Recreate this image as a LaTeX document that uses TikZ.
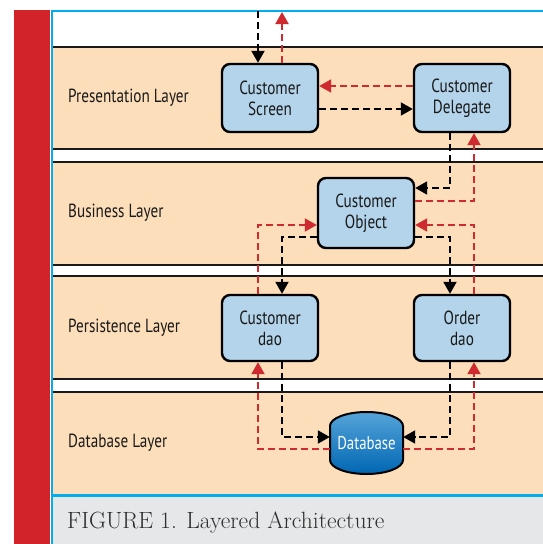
\documentclass[tikz,border=0pt]{standalone}
\usepackage{fontspec}
\setsansfont{PT Sans}[FakeStretch=0.8]
\usetikzlibrary{arrows.meta}
\definecolor{figred}{HTML}{D2232A}
\definecolor{figblue}{HTML}{00AEEF}
\definecolor{bandfill}{HTML}{FDDEBA}
\definecolor{boxfill}{HTML}{B3D4EA}
\definecolor{capfill}{HTML}{E6E7E8}
\definecolor{captext}{HTML}{2E2E2E}
\definecolor{backred}{HTML}{CF2A30}
\definecolor{dbtop}{HTML}{55A4D8}
\definecolor{dbbottom}{HTML}{0066B3}
\begin{document}
\begin{tikzpicture}[
            x=1pt, y=-1pt,
            bandline/.style={line width=2pt, black!90},
            box/.style={draw, line width=2.4pt, fill=boxfill, rounded corners=8pt,
                    minimum width=96pt, minimum height=68pt, inner sep=0pt, align=center,
                    font=\sffamily\fontsize{19}{21}\selectfont, text=black!90},
            layer/.style={anchor=west, inner sep=0pt,
                    font=\sffamily\fontsize{19}{21}\selectfont, text=black!90},
            call/.style={draw=black, line width=2pt, dash pattern=on 7pt off 4pt,
                    -{Triangle[length=12pt,width=13pt]}},
            back/.style={call, draw=backred, color=backred}
        ]
        \useasboundingbox (0,0) rectangle (543,544);
        \fill[figred] (14,10) rectangle (50,544);
        \foreach \top/\bot in {47/149,162/265,276/379,392/494}
            \fill[bandfill] (53,\top) rectangle (543,\bot);
        \foreach \y in {47,149,162,265,276,379,392}
            \draw[bandline] (53,\y) -- (543,\y);
        \fill[capfill] (53,497) rectangle (543,544);
        \draw[figblue, line width=2.4pt] (51.7,544) -- (51.7,10.7) -- (543,10.7);
        \draw[figblue, line width=3pt] (50.5,495.7) -- (543,495.7);

        \node[layer] (presentation) at (68,98) {Presentation Layer};
        \node[layer] (business) at (68,213) {Business Layer};
        \node[layer] (persistence) at (68,328) {Persistence Layer};
        \node[layer] (database) at (68,443) {Database Layer};
        \node[anchor=base west, inner sep=0pt, text=captext,
            font=\fontsize{23.5}{26}\selectfont] (caption) at (67,528) {FIGURE 1. Layered Architecture};

        \node[box] (screen) at (270,98) {Customer\\Screen};
        \node[box] (delegate) at (462,98) {Customer\\Delegate};
        \node[box, minimum height=70pt] (object) at (366,213) {Customer\\Object};
        \node[box, minimum height=66pt] (cdao) at (270,328) {Customer\\dao};
        \node[box, minimum height=66pt] (odao) at (462,328) {Order\\dao};
        \coordinate (dbc) at (366.5,443);
        \shade[top color=dbtop, bottom color=dbbottom, draw=black, line width=2pt]
            ([xshift=-36.5pt, yshift=17pt]dbc) arc[start angle=180, end angle=0, x radius=36.5pt, y radius=14pt]
            -- ++(0pt,-34pt) arc[start angle=0, end angle=-180, x radius=36.5pt, y radius=14pt] -- cycle;
        \node[minimum width=73pt, minimum height=62pt, inner sep=0pt, text=white,
            font=\sffamily\fontsize{18.5}{20}\selectfont] (db) at (dbc) {Database};

        \coordinate (feedin) at (258,11);
        \coordinate (feedout) at (282,12);
        \draw[call] (feedin) -- ([xshift=-12pt]screen.north);
        \draw[back] ([xshift=12pt]screen.north) -- (feedout);
        \draw[back] ([yshift=12pt]delegate.west) -- ([yshift=12pt]screen.east);
        \draw[call] ([yshift=-11pt]screen.east) -- ([yshift=-11pt]delegate.west);

        \draw[call] ([xshift=-12pt]delegate.south) |- ([yshift=25pt]object.east);
        \draw[back] ([yshift=12pt]object.east) -| ([xshift=12pt]delegate.south);
        \draw[back] ([xshift=-12pt]cdao.north) |- ([yshift=-12pt]object.west);
        \draw[call] ([yshift=-24pt]object.west) -| ([xshift=12pt]cdao.north);
        \draw[call] ([yshift=-24pt]object.east) -| ([xshift=-12pt]odao.north);
        \draw[back] ([xshift=12pt]odao.north) |- ([yshift=-12pt]object.east);

        \draw[call] ([xshift=12pt]cdao.south) |- ([yshift=6pt]db.west);
        \draw[back] ([yshift=-6pt]db.west) -| ([xshift=-12pt]cdao.south);
        \draw[call] ([xshift=-12pt]odao.south) |- ([yshift=6pt]db.east);
        \draw[back] ([yshift=-6pt]db.east) -| ([xshift=12pt]odao.south);
    \end{tikzpicture}
\end{document}
